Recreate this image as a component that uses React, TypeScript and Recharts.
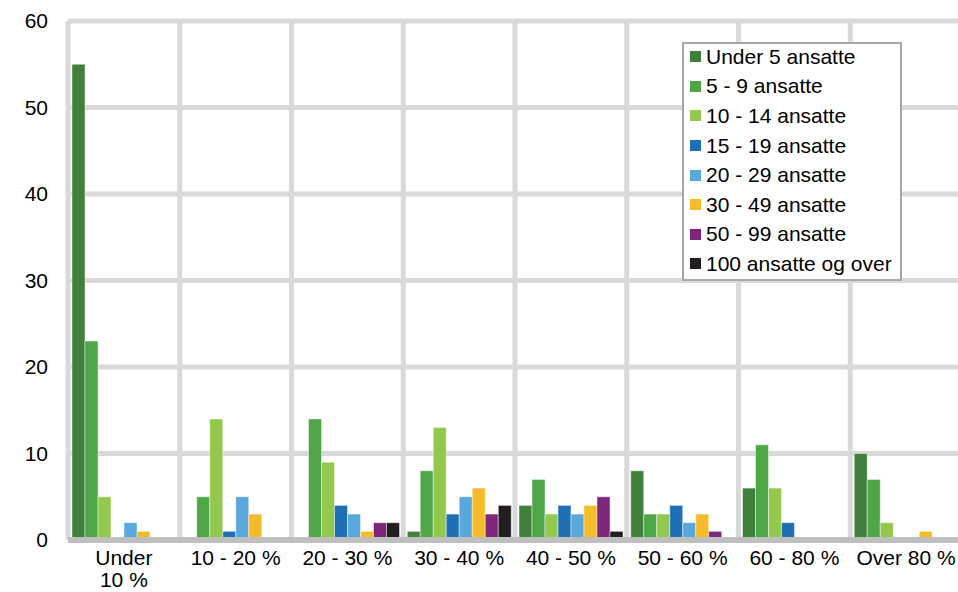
import { Bar, BarChart, CartesianGrid, Legend, XAxis, YAxis } from "recharts"

// share of firms by turnover share, grouped by number of employees
const categories = [
  "Under 10 %",
  "10 - 20 %",
  "20 - 30 %",
  "30 - 40 %",
  "40 - 50 %",
  "50 - 60 %",
  "60 - 80 %",
  "Over 80 %",
]
const seriesNames = [
  "Under 5 ansatte",
  "5 - 9 ansatte",
  "10 - 14 ansatte",
  "15 - 19 ansatte",
  "20 - 29 ansatte",
  "30 - 49 ansatte",
  "50 - 99 ansatte",
  "100 ansatte og over",
]
const under5 = [55, 0, 0, 1, 4, 8, 6, 10]
const from5to9 = [23, 5, 14, 8, 7, 3, 11, 7]
const from10to14 = [5, 14, 9, 13, 3, 3, 6, 2]
const from15to19 = [0, 1, 4, 3, 4, 4, 2, 0]
const from20to29 = [2, 5, 3, 5, 3, 2, 0, 0]
const from30to49 = [1, 3, 1, 6, 4, 3, 0, 1]
const from50to99 = [0, 0, 2, 3, 5, 1, 0, 0]
const from100 = [0, 0, 2, 4, 1, 0, 0, 0]
const yTicks = [0, 10, 20, 30, 40, 50, 60]

const COLORS = [
  "#41803c",
  "#4ea647",
  "#92c84e",
  "#1f6fb5",
  "#5aa7dc",
  "#f5bb2a",
  "#7d267b",
  "#231f20",
]
const FONT = "'Liberation Sans', Arial, sans-serif"

const seriesValues = [
  under5,
  from5to9,
  from10to14,
  from15to19,
  from20to29,
  from30to49,
  from50to99,
  from100,
]

const data = categories.map((cat, i) => {
  const row: Record<string, string | number> = { category: cat }
  seriesNames.forEach((name, s) => {
    row[name] = seriesValues[s][i]
  })
  return row
})

// long labels break at the first space, like the original
function wrapLabel(label: string) {
  if (label.length <= 9) return [label]
  const idx = label.indexOf(" ")
  return [label.slice(0, idx), label.slice(idx + 1)]
}

function CategoryTick({ x, y, payload }: any) {
  const lines = wrapLabel(String(payload.value))
  return (
    <text x={x} y={y} textAnchor="middle" fill="#000" fontSize={21} fontFamily={FONT}>
      {lines.map((line, i) => (
        <tspan key={i} x={x} dy={i === 0 ? 25 : 22}>
          {line}
        </tspan>
      ))}
    </text>
  )
}

function LegendBox({ payload }: any) {
  // keep the series order instead of recharts' alphabetical sort
  const items = [...(payload || [])].sort(
    (a: any, b: any) => seriesNames.indexOf(a.value) - seriesNames.indexOf(b.value)
  )
  return (
    <div
      style={{
        border: "2px solid #a6a6a6",
        background: "#fff",
        boxSizing: "border-box",
        width: 220,
        height: 239,
        padding: "0 0 0 6px",
        fontFamily: FONT,
        fontSize: 21,
        color: "#000",
      }}
    >
      <div style={{ marginTop: -2 }}>
        {items.map((p: any) => (
          <div
            key={p.value}
            style={{ display: "flex", alignItems: "center", height: 29.6, whiteSpace: "nowrap" }}
          >
            <span
              style={{ width: 11, height: 11, background: p.color, marginRight: 5, flex: "none" }}
            />
            <span>{p.value}</span>
          </div>
        ))}
      </div>
    </div>
  )
}

export default function App() {
  return (
    <div
      style={{
        position: "absolute",
        left: 0,
        top: 0,
        width: 958,
        height: 592,
        overflow: "hidden",
        background: "#fff",
      }}
    >
      <BarChart
        width={966}
        height={592}
        data={data}
        margin={{ top: 21, right: 4, left: 0, bottom: 2 }}
        barGap={0}
        barCategoryGap={4}
      >
        <CartesianGrid
          stroke="#d9d9d9"
          strokeWidth={5}
          verticalCoordinatesGenerator={({ offset }: any) =>
            Array.from(
              { length: categories.length + 1 },
              (_, i) => offset.left + (i * offset.width) / categories.length
            )
          }
        />
        <XAxis
          dataKey="category"
          interval={0}
          height={50}
          tickSize={0}
          tickMargin={0}
          tickLine={false}
          axisLine={{ stroke: "#bfbfbf", strokeWidth: 6 }}
          tick={<CategoryTick />}
        />
        <YAxis
          domain={[0, 60]}
          ticks={yTicks}
          width={68}
          tickSize={0}
          tickMargin={20}
          tickLine={false}
          axisLine={false}
          tick={{ fill: "#000", fontSize: 21, fontFamily: FONT }}
        />
        <Legend
          layout="vertical"
          align="center"
          verticalAlign="middle"
          wrapperStyle={{ left: 682, top: 42, width: 220 }}
          content={<LegendBox />}
        />
        {seriesNames.map((name, i) => (
          <Bar
            key={name}
            dataKey={name}
            fill={COLORS[i]}
            stroke="#ffffff"
            strokeOpacity={0.45}
            strokeWidth={1}
            isAnimationActive={false}
          />
        ))}
      </BarChart>
    </div>
  )
}
